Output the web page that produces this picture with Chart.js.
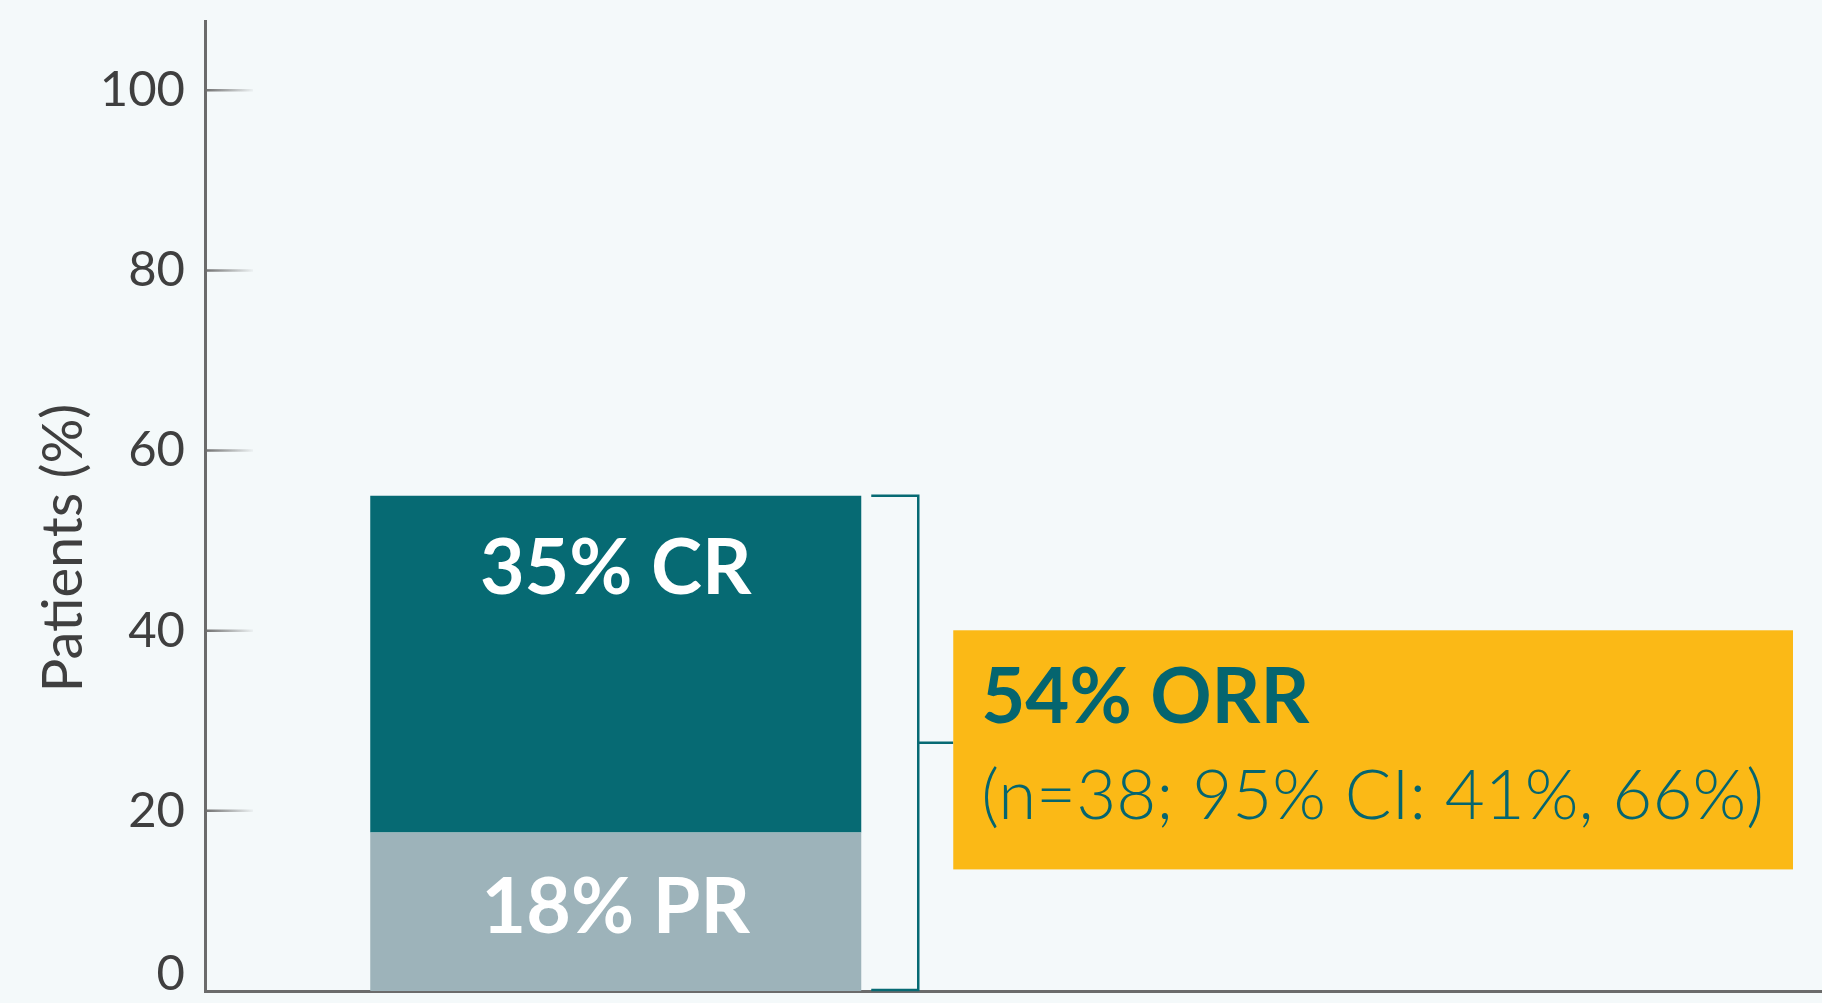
<!DOCTYPE html>
<html>
<head>
<meta charset="utf-8">
<script src="https://cdn.jsdelivr.net/npm/chart.js@4.4.1/dist/chart.umd.min.js"></script>
<style>
  html, body { margin: 0; padding: 0; background: #f4f9fa; overflow: hidden; }
  canvas { display: block; }
</style>
</head>
<body>
<!-- a bit wider than the window so the 2-slot x axis lands the bar where it sits in the original -->
<canvas id="orr-chart" width="1848" height="1003"></canvas>
<script>
// values (its drawn height, not the printed labels)
const categories = ['Overall', ''];
const prValues = [17.6, null];
const crValues = [37.4, null];
const segmentLabels = { pr: '18% PR', cr: '35% CR' };
const orrTitle = '54% ORR';
const orrDetail = '(n=38; 95% CI: 41%, 66%)';
const yTickValues = [0, 20, 40, 60, 80, 100];
// box spans these y values
const boxRange = [13.5, 40.05];

const teal = '#066a73';
const grey = '#9db3ba';
const axisGrey = '#6b6b6b';
const labelGrey = '#3f3f3f';
const yellow = '#fbb916';
const fontFamily = 'Lato, "Open Sans", sans-serif';

const annotations = {
  id: 'annotations',
  afterDraw(chart) {
    const { ctx, chartArea, scales: { y } } = chart;
    const pr = chart.getDatasetMeta(0).data[0];
    const cr = chart.getDatasetMeta(1).data[0];
    ctx.save();

    // inner tick marks, fading out to the right
    yTickValues.filter(v => v > 0).forEach(v => {
      const py = y.getPixelForValue(v);
      const grad = ctx.createLinearGradient(chartArea.left, 0, chartArea.left + 48, 0);
      grad.addColorStop(0, 'rgba(110,110,110,1)');
      grad.addColorStop(1, 'rgba(110,110,110,0.05)');
      ctx.strokeStyle = grad;
      ctx.lineWidth = 2.5;
      ctx.beginPath();
      ctx.moveTo(chartArea.left, py);
      ctx.lineTo(chartArea.left + 48, py);
      ctx.stroke();
    });

    // labels inside the bar
    ctx.fillStyle = '#ffffff';
    ctx.textAlign = 'center';
    ctx.textBaseline = 'alphabetic';
    ctx.font = '700 77px ' + fontFamily;
    ctx.fillText(segmentLabels.cr, cr.x, cr.y + 98);
    ctx.fillText(segmentLabels.pr, pr.x, pr.base - 58);

    // bracket
    const barRight = cr.x + cr.width / 2;
    const top = cr.y;
    const bottom = y.getPixelForValue(0) - 1;
    const bx = barRight + 57;
    const mid = (top + bottom) / 2;
    const boxLeft = barRight + 92;
    ctx.strokeStyle = teal;
    ctx.lineWidth = 2.5;
    ctx.beginPath();
    ctx.moveTo(barRight + 10, top);
    ctx.lineTo(bx, top);
    ctx.lineTo(bx, bottom);
    ctx.lineTo(barRight + 10, bottom);
    ctx.moveTo(bx, mid);
    ctx.lineTo(boxLeft, mid);
    ctx.stroke();

    // ORR box
    const boxTop = y.getPixelForValue(boxRange[1]);
    const boxBottom = y.getPixelForValue(boxRange[0]);
    const boxRight = chartArea.right - 55;
    ctx.fillStyle = yellow;
    ctx.fillRect(boxLeft, boxTop, boxRight - boxLeft, boxBottom - boxTop);
    ctx.fillStyle = '#05656f';
    ctx.textAlign = 'left';
    ctx.font = '700 76px ' + fontFamily;
    ctx.fillText(orrTitle, boxLeft + 28, boxTop + 93);
    ctx.font = '300 69px ' + fontFamily;
    ctx.fillText(orrDetail, boxLeft + 28, boxTop + 189);

    ctx.restore();
  }
};

new Chart(document.getElementById('orr-chart'), {
  type: 'bar',
  data: {
    labels: categories,
    datasets: [
      { label: 'PR', data: prValues, backgroundColor: grey },
      { label: 'CR', data: crValues, backgroundColor: teal }
    ]
  },
  options: {
    responsive: false,
    animation: false,
    devicePixelRatio: 1,
    layout: { padding: { top: 21, bottom: 12, left: 0, right: 0 } },
    datasets: { bar: { barPercentage: 0.5977, categoryPercentage: 1 } },
    plugins: { legend: { display: false }, tooltip: { enabled: false } },
    scales: {
      x: {
        stacked: true,
        grid: { display: false },
        ticks: { display: false },
        border: { color: axisGrey, width: 3 },
        afterFit: scale => {
          scale.height = 0;
        }
      },
      y: {
        stacked: true,
        min: 0,
        max: 107.7,
        grid: { display: false, drawTicks: false },
        border: { color: axisGrey, width: 3 },
        ticks: {
          stepSize: 20,
          padding: 20,
          color: labelGrey,
          // the "0" sits a little above the x axis, so it gets a spare empty line
          callback: value => (value === 0 ? ['0', ''] : String(value)),
          font: ctx => ({
            family: fontFamily,
            size: 49,
            lineHeight: ctx.tick && ctx.tick.value === 0 ? 0.68 : 1.2
          })
        },
        title: {
          display: true,
          text: 'Patients (%)\u2003\u2003',
          color: labelGrey,
          font: { family: fontFamily, size: 56 },
          padding: { top: 30, bottom: 0 }
        },
        afterBuildTicks: scale => {
          scale.ticks = yTickValues.map(value => ({ value }));
        },
        afterFit: scale => {
          scale.width = 205;
          scale.paddingTop = 0;
          scale.paddingBottom = 0;
        }
      }
    }
  },
  plugins: [annotations]
});
</script>
</body>
</html>
